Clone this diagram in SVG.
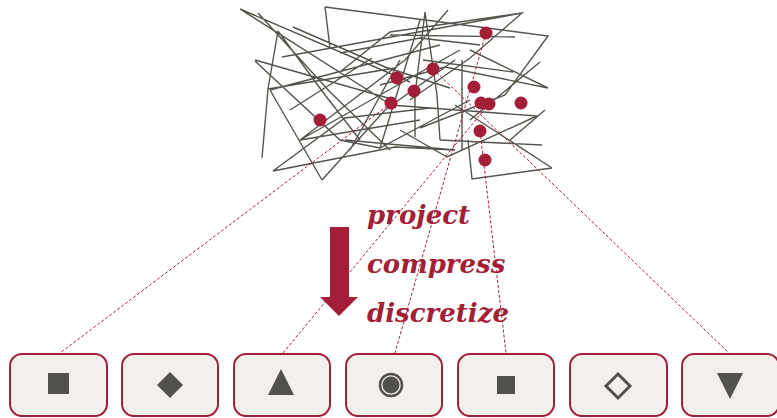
<svg xmlns="http://www.w3.org/2000/svg" width="777" height="418" viewBox="0 0 777 418">
  <defs>
    <style>
      .tangle { fill: none; stroke: #55534b; stroke-width: 1.4; stroke-linejoin: miter; }
      .dot { fill: #a31f37; }
      .link { fill: none; stroke: #a31f37; stroke-width: 1; stroke-dasharray: 3 2; }
      .box { fill: #f3f0eb; stroke: #a31f37; stroke-width: 2; }
      .glyph { fill: #52504a; }
      .verb { font-family: "DejaVu Serif", "Liberation Serif", serif; font-weight: bold; font-style: italic; font-size: 26px; fill: #a31f37; }
    </style>
  </defs>
  <rect width="777" height="418" fill="#ffffff"/>

  <!-- tangled high-dimensional data -->
  <g id="tangle">
    <path class="tangle" d="
      M240,9 L410,82 M240,9 L396,108
      M258,13 L330,92 L390,150
      M278,31 L268,89 M278,31 L325,95 L360,140
      M293,27 L385,67 L450,88
      M325,7 L330,48 M325,7 L548,36 L505,95 L420,128
      M282,57 L522,13 L470,58 L410,100
      M255,61 L340,140 L380,148 L470,100
      M268,89 L395,68 M268,89 L262,158
      M273,171 L395,147 L455,150 M273,171 L345,118 L430,108
      M322,180 L270,90 M322,180 L385,110 L455,60
      M425,12 L415,95 L415,137 M425,12 L437,95 L440,140
      M448,10 L405,60 L300,140 L420,120
      M522,13 L390,32 L340,72 M390,35 L515,37 M340,53 L420,38 L480,45
      M423,60 L513,72 M548,88 L445,67 L380,85
      M462,60 L462,150 M390,105 L537,116 L447,157 L400,130
      M542,145 L440,140 M552,168 L472,179 L468,140 M552,168 L455,105
      M345,140 L455,150
      M255,60 L395,100 M270,90 L440,45 M300,140 L460,50
      M350,150 L400,60 M380,148 L420,20 M470,50 L548,88
      M540,62 L470,120 M510,140 L545,110 M290,110 L372,58"/>
  </g>

  <!-- projection links from points to symbols -->
  <g id="links">
    <line class="link" x1="391" y1="103" x2="60" y2="353"/>
    <line class="link" x1="489" y1="104" x2="283" y2="353"/>
    <line class="link" x1="486" y1="33" x2="395" y2="353"/>
    <line class="link" x1="480" y1="131" x2="506" y2="353"/>
    <line class="link" x1="433" y1="69" x2="729" y2="353"/>
  </g>

  <g id="points">
    <circle class="dot" cx="486" cy="33" r="6.5"/>
    <circle class="dot" cx="397" cy="78" r="6.5"/>
    <circle class="dot" cx="433" cy="69" r="6.5"/>
    <circle class="dot" cx="414" cy="91" r="6.5"/>
    <circle class="dot" cx="391" cy="103" r="6.5"/>
    <circle class="dot" cx="474" cy="87" r="6.5"/>
    <circle class="dot" cx="481" cy="103" r="6.5"/>
    <circle class="dot" cx="489" cy="104" r="6.5"/>
    <circle class="dot" cx="521" cy="103" r="6.5"/>
    <circle class="dot" cx="320" cy="120" r="6.5"/>
    <circle class="dot" cx="480" cy="131" r="6.5"/>
    <circle class="dot" cx="485" cy="160" r="6.5"/>
  </g>

  <!-- down arrow with its three verbs -->
  <g id="arrow">
    <path fill="#a31f37" d="M330,227 H349 V297 H358 L339,316 L320,297 H330 Z"/>
  </g>
  <g id="labels">
    <text class="verb" x="367" y="224">project</text>
    <text class="verb" x="367" y="273">compress</text>
    <text class="verb" x="367" y="322">discretize</text>
  </g>

  <!-- symbol boxes -->
  <g id="box-square">
    <rect class="box" x="10" y="354" width="97" height="62" rx="12"/>
    <rect class="glyph" x="48" y="373" width="21" height="21"/>
  </g>
  <g id="box-diamond">
    <rect class="box" x="122" y="354" width="96" height="62" rx="12"/>
    <path class="glyph" d="M170,372 L183,385 L170,398 L157,385 Z"/>
  </g>
  <g id="box-triangle">
    <rect class="box" x="234" y="354" width="96" height="62" rx="12"/>
    <path class="glyph" d="M281,369 L294,395 L268,395 Z"/>
  </g>
  <g id="box-target">
    <rect class="box" x="346" y="354" width="96" height="62" rx="12"/>
    <circle cx="391" cy="385" r="11" fill="none" stroke="#52504a" stroke-width="2.5"/>
    <circle class="glyph" cx="391" cy="385" r="8.5"/>
  </g>
  <g id="box-small-square">
    <rect class="box" x="458" y="354" width="96" height="62" rx="12"/>
    <rect class="glyph" x="497" y="376" width="18" height="18"/>
  </g>
  <g id="box-hollow-diamond">
    <rect class="box" x="570" y="354" width="97" height="62" rx="12"/>
    <path d="M618,374 L630,386 L618,398 L606,386 Z" fill="none" stroke="#52504a" stroke-width="3"/>
  </g>
  <g id="box-down-triangle">
    <rect class="box" x="682" y="354" width="97" height="62" rx="12"/>
    <path class="glyph" d="M717,373 L743,373 L730,399 Z"/>
  </g>
</svg>
